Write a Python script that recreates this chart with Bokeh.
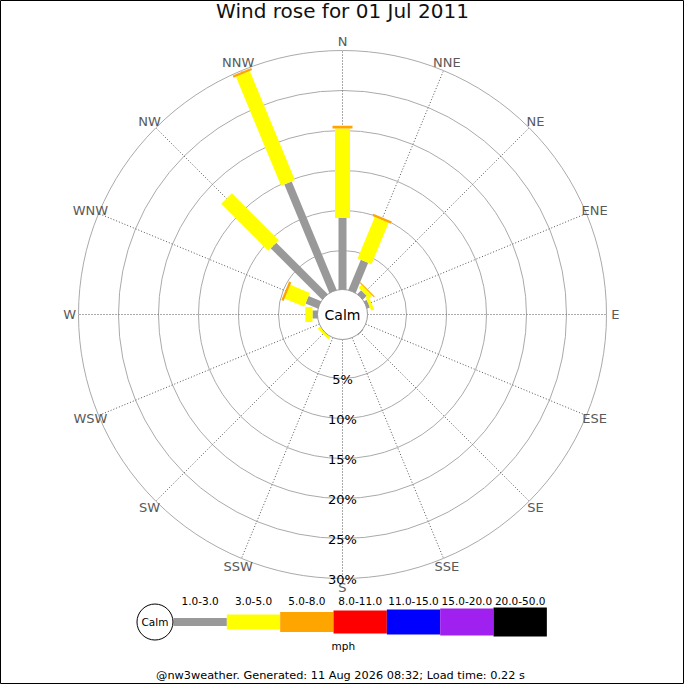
import numpy as np
from bokeh.plotting import figure
from bokeh.models import Range1d, ColumnDataSource
from bokeh.embed import file_html
from bokeh.resources import INLINE
from bokeh.core.properties import value

# ---------------- data ----------------
directions = ["N", "NNE", "NE", "ENE", "E", "ESE", "SE", "SSE",
              "S", "SSW", "SW", "WSW", "W", "WNW", "NW", "NNW"]
band_labels = ["1.0-3.0", "3.0-5.0", "5.0-8.0", "8.0-11.0",
               "11.0-15.0", "15.0-20.0", "20.0-50.0"]
band_colors = ["#999999", "#ffff00", "#ffa500", "#ff0000",
               "#0000ff", "#a020f0", "#000000"]
# percent of time per direction, per speed band (mph)
pct_1_3 = [9.05, 4.2, 0.8, 0.5, 0, 0, 0.2, 0, 0, 0, 0.1, 0, 0.75, 1.8, 9.2, 14.8]
pct_3_5 = [11.2, 5.6, 0.5, 0.4, 0, 0, 0, 0, 0, 0, 0.35, 0, 0.9, 2.65, 8.3, 14.75]
pct_5_8 = [0.35, 0.3, 0.15, 0, 0, 0, 0, 0, 0, 0, 0, 0, 0, 0.3, 0, 0.3]
pct_8_11 = [0] * 16
pct_11_15 = [0] * 16
pct_15_20 = [0] * 16
pct_20_50 = [0] * 16
ring_pcts = [5, 10, 15, 20, 25, 30]
ring_labels = ["5%", "10%", "15%", "20%", "25%", "30%"]
title_text = "Wind rose for 01 Jul 2011"
calm_text = "Calm"
unit_text = "mph"
footer_text = "@nw3weather. Generated: 11 Aug 2026 08:32; Load time: 0.22 s"

bands = [pct_1_3, pct_3_5, pct_5_8, pct_8_11, pct_11_15, pct_15_20, pct_20_50]

# ---------------- styling / layout ----------------
FONT = "DejaVu Sans"
R0 = 3.0            # radius (data units) of 0 % (calm hole)
CALM_R = 3.125
band_widths = [8, 15, 20, 23, 25, 27, 29]   # px
W = H = 684

p = figure(width=W, height=H, output_backend="svg", toolbar_location=None,
           x_range=Range1d(-42.75, 42.75), y_range=Range1d(-46.25, 39.25),
           min_border=0)
p.axis.visible = False
p.xgrid.visible = False
p.ygrid.visible = False
p.outline_line_color = "black"
p.outline_line_width = 1
p.background_fill_color = "white"
p.border_fill_color = "white"

ang = np.deg2rad(np.arange(16) * 22.5)
sx, cy = np.sin(ang), np.cos(ang)

# grid rings
ring_r = [R0 + r for r in ring_pcts]
p.circle(x=[0] * len(ring_r), y=[0] * len(ring_r), radius=ring_r,
         fill_color=None, line_color="#aaaaaa", line_width=1)

# radial dotted lines
rmax = R0 + ring_pcts[-1]
p.segment(x0=CALM_R * sx, y0=CALM_R * cy, x1=rmax * sx, y1=rmax * cy,
          line_color="#555555", line_width=1, line_dash="1 2")

# bars
cum = np.zeros(16)
for k, vals in enumerate(bands):
    v = np.array(vals, dtype=float)
    start = R0 + cum
    end = R0 + cum + v
    m = v > 0
    if m.any():
        src = ColumnDataSource(dict(x0=(start * sx)[m], y0=(start * cy)[m],
                                    x1=(end * sx)[m], y1=(end * cy)[m]))
        p.segment("x0", "y0", "x1", "y1", source=src, line_color=band_colors[k],
                  line_width=band_widths[k], line_cap="butt")
    cum = cum + v

# calm circle
p.circle(x=[0], y=[0], radius=CALM_R, fill_color="white", line_color="#999999",
         line_width=1)
p.text(x=[0], y=[0], text=[calm_text], text_align="center", text_baseline="middle",
       text_font=value(FONT), text_font_size="14px", text_color="black")

# direction labels
lab_r = 34.1
p.text(x=lab_r * sx, y=lab_r * cy, text=directions, text_align="center",
       text_baseline="middle", text_font=value(FONT), text_font_size="13px",
       text_color="#5a5a5a")

# ring labels
p.text(x=[0] * len(ring_r), y=[-(r + 0.1) for r in ring_r], text=ring_labels,
       text_align="center", text_baseline="middle", text_font=value(FONT),
       text_font_size="13px", text_color="black")

# title
p.text(x=[0], y=[38.0], text=[title_text], text_align="center", text_baseline="middle",
       text_font=value(FONT), text_font_size="20px", text_color="#111111")

# legend
leg_y = -38.44
leg_x0 = -21.125
leg_step = 6.667
lx0 = [leg_x0 + i * leg_step for i in range(len(band_labels))]
lx1 = [x + leg_step for x in lx0]
p.segment(x0=lx0, y0=[leg_y] * 7, x1=lx1, y1=[leg_y] * 7, line_color=band_colors,
          line_width=band_widths, line_cap="butt")
p.circle(x=[-23.44], y=[leg_y], radius=2.25, fill_color="white", line_color="black",
         line_width=1)
p.text(x=[-23.44], y=[leg_y], text=[calm_text], text_align="center",
       text_baseline="middle", text_font=value(FONT), text_font_size="10.5px",
       text_color="black")
p.text(x=[(a + b) / 2 for a, b in zip(lx0, lx1)], y=[-35.84] * 7, text=band_labels,
       text_align="center", text_baseline="middle", text_font=value(FONT),
       text_font_size="10.5px", text_color="black")
p.text(x=[0.1], y=[-41.4], text=[unit_text], text_align="center",
       text_baseline="middle", text_font=value(FONT), text_font_size="10.5px",
       text_color="black")

# footer
p.text(x=[-0.25], y=[-45.1], text=[footer_text], text_align="center",
       text_baseline="middle", text_font=value(FONT), text_font_size="11.3px",
       text_color="black")

open("out.html", "w").write(file_html(p, INLINE))
